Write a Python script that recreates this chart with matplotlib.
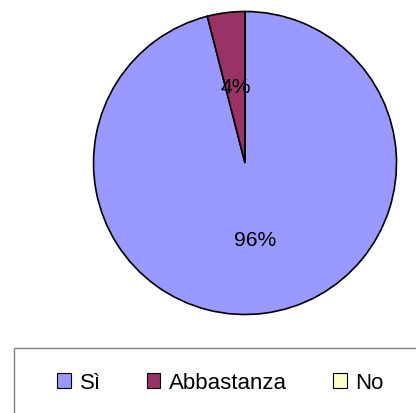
import matplotlib.pyplot as plt
from matplotlib.patches import Rectangle, Patch

plt.rcParams["font.family"] = ["Liberation Sans", "DejaVu Sans"]

labels = ["Sì", "Abbastanza", "No"]
values = [96, 4, 0]
colors = ["#9999FF", "#993366", "#FFFFCC"]

W, H = 416, 414
fig = plt.figure(figsize=(W / 100, H / 100), dpi=100)

cx, cy, r = 245, 164, 151.5
ax = fig.add_axes([(cx - r) / W, (H - cy - r) / H, 2 * r / W, 2 * r / H])

wedges, texts, autotexts = ax.pie(
    values, colors=colors, startangle=90, counterclock=False,
    autopct=lambda p: f"{p:.0f}%" if p > 0 else "",
    pctdistance=0.51,
    wedgeprops=dict(edgecolor="black", linewidth=1.2),
    textprops=dict(fontsize=15.2, color="black"),
)
ax.set_xlim(-1, 1)
ax.set_ylim(-1, 1)
ax.set_aspect("auto")
ax.axis("off")

# legend frame (cut off at the right and bottom like the original)
fig.patches.append(Rectangle((14 / W, -0.1), 1.0, (H - 349) / H + 0.1,
                             transform=fig.transFigure, facecolor="white",
                             edgecolor="#808080", linewidth=1.0, zorder=0))

handles = [Patch(facecolor=c, edgecolor="black", linewidth=0.8) for c in colors]
fig.legend(handles, labels, ncol=3, loc="center",
           bbox_to_anchor=(220.5 / W, (H - 384) / H), frameon=False,
           fontsize=16, handlelength=0.62, handleheight=0.62,
           handletextpad=0.4, columnspacing=2.05)

fig.savefig("out.png", dpi=100)
